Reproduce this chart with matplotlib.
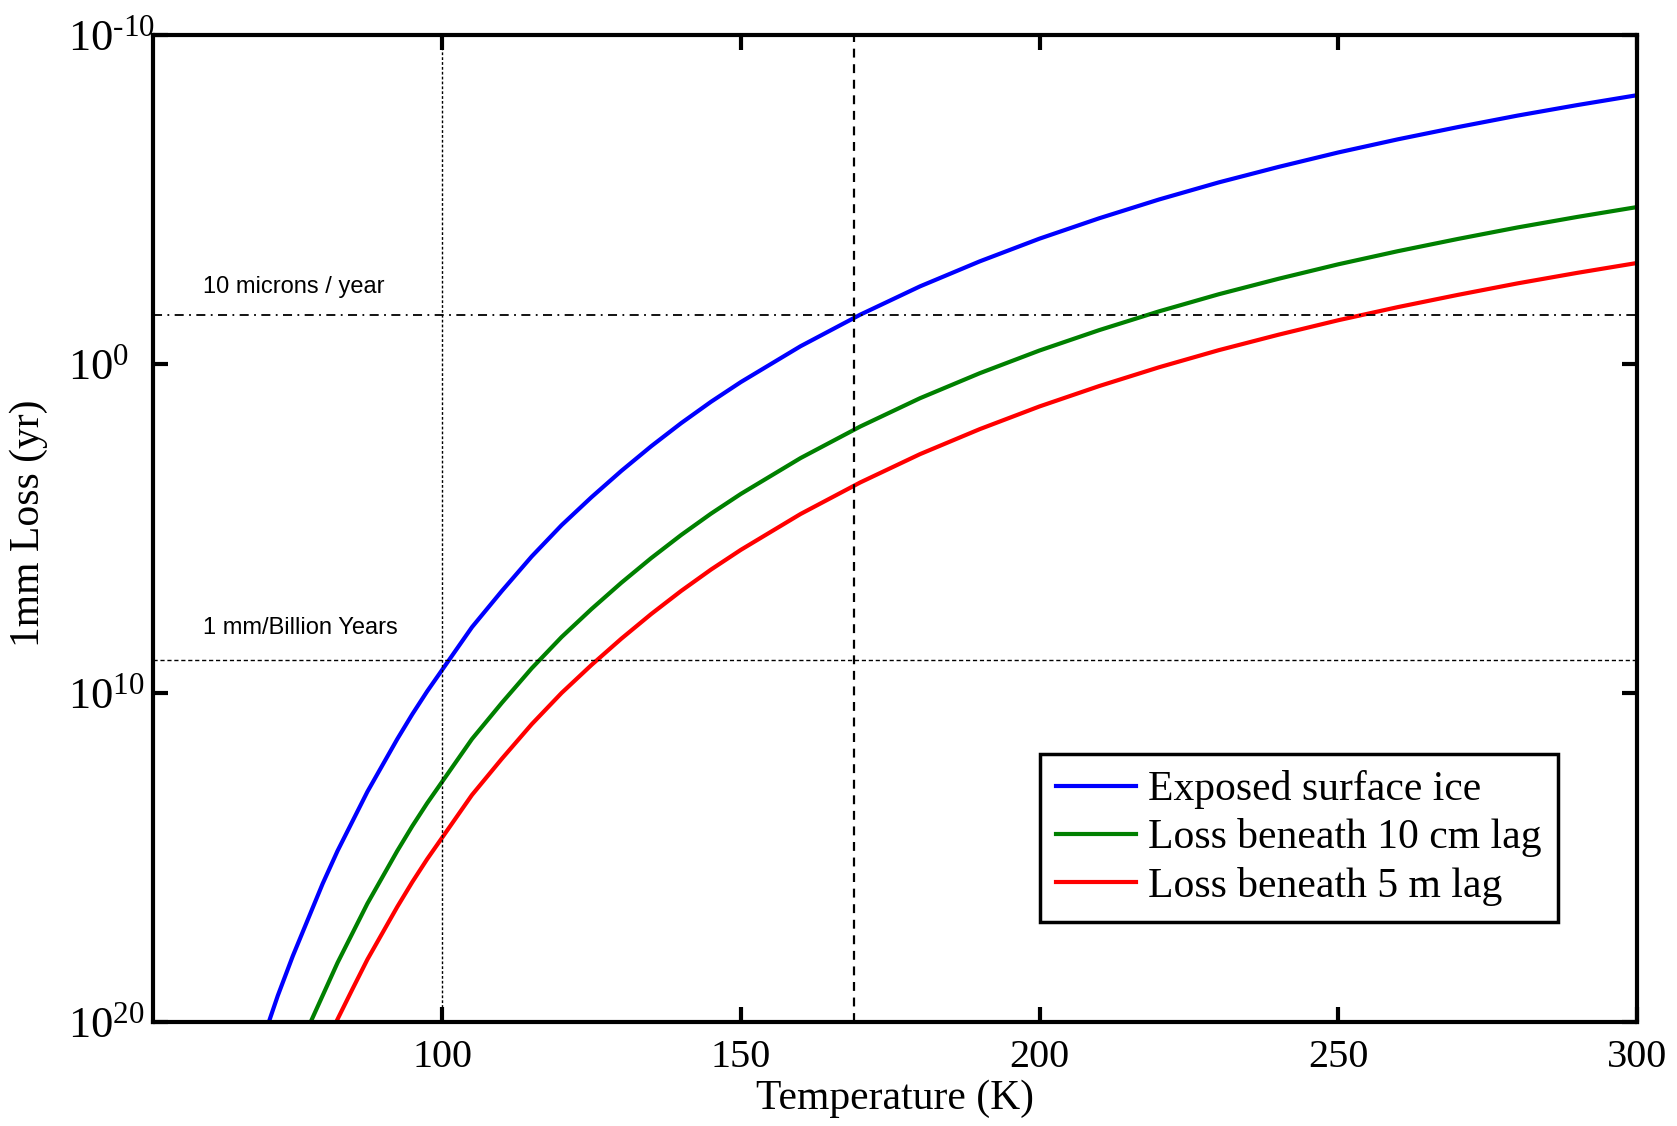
import numpy as np
import matplotlib
matplotlib.use('Agg')
import matplotlib.pyplot as plt

# Temperatura (K) e log10 do tempo para perder 1 mm (anos)
T_exposto = [71, 72.5, 75, 77.5, 80, 82.5, 85, 87.5, 90, 92.5, 95, 97.5, 100, 105, 110, 115, 120, 125, 130,
             135, 140, 145, 150, 160, 170, 180, 190, 200, 210, 220, 230, 240, 250, 260, 270, 280, 290, 300]
log_exposto = [20.0, 19.2, 18.0, 16.9, 15.8, 14.8, 13.9, 13.0, 12.2, 11.4, 10.65, 9.95, 9.3, 8.0, 6.9, 5.85, 4.9, 4.05, 3.25,
               2.5, 1.8, 1.15, 0.55, -0.54, -1.5, -2.36, -3.12, -3.81, -4.43, -5.0, -5.52, -5.99, -6.43, -6.83, -7.2, -7.55, -7.87, -8.17]

T_10cm = [78, 80, 82.5, 85, 87.5, 90, 92.5, 95, 97.5, 100, 105, 110, 115, 120, 125, 130, 135, 140, 145,
          150, 160, 170, 180, 190, 200, 210, 220, 230, 240, 250, 260, 270, 280, 290, 300]
log_10cm = [20.0, 19.2, 18.2, 17.3, 16.4, 15.6, 14.8, 14.05, 13.35, 12.7, 11.4, 10.3, 9.25, 8.3, 7.45, 6.65, 5.9, 5.2, 4.55,
            3.95, 2.86, 1.9, 1.04, 0.28, -0.41, -1.03, -1.6, -2.12, -2.59, -3.03, -3.43, -3.8, -4.15, -4.47, -4.77]

T_5m = [82, 85, 87.5, 90, 92.5, 95, 97.5, 100, 105, 110, 115, 120, 125, 130, 135, 140, 145,
        150, 160, 170, 180, 190, 200, 210, 220, 230, 240, 250, 260, 270, 280, 290, 300]
log_5m = [20.1, 19.0, 18.1, 17.3, 16.5, 15.75, 15.05, 14.4, 13.1, 12.0, 10.95, 10.0, 9.15, 8.35, 7.6, 6.9, 6.25,
          5.65, 4.56, 3.6, 2.74, 1.98, 1.29, 0.67, 0.1, -0.42, -0.89, -1.33, -1.73, -2.1, -2.45, -2.77, -3.07]

rotulos = ['Exposed surface ice', 'Loss beneath 10 cm lag', 'Loss beneath 5 m lag']
cores = ['#0000ff', '#008000', '#ff0000']

# linhas de referencia
y_10microns = 10 ** -1.5
y_bilhao = 1e9
T_ref1 = 100
T_ref2 = 169

xticks = [100, 150, 200, 250, 300]
yticks = [1e-10, 1e0, 1e10, 1e20]
ytick_labels = [r'$10^{\text{-}10}$', r'$10^{0}$', r'$10^{10}$', r'$10^{20}$']

plt.rcParams['font.family'] = 'Liberation Serif'
plt.rcParams['mathtext.fontset'] = 'custom'
plt.rcParams['mathtext.rm'] = 'Liberation Serif'
plt.rcParams['mathtext.it'] = 'Liberation Serif:italic'

fig = plt.figure(figsize=(16.77, 11.26), dpi=100)
ax = fig.add_axes([0.0912, 0.0924, 0.8849, 0.8765])

for T, logt, cor, rot in zip([T_exposto, T_10cm, T_5m], [log_exposto, log_10cm, log_5m], cores, rotulos):
    ax.plot(T, 10 ** np.array(logt), color=cor, linewidth=3, label=rot, solid_joinstyle='round')

# linhas tracejadas
ax.axvline(T_ref1, color='k', linewidth=1.0, linestyle=(0, (2, 1.5)))
ax.axvline(T_ref2, color='k', linewidth=1.6, linestyle=(0, (4, 3)))
ax.axhline(y_bilhao, color='k', linewidth=1.0, linestyle=(0, (3, 2)))
ax.axhline(y_10microns, color='k', linewidth=1.3, linestyle=(0, (5, 3, 1, 3)))

ax.text(60, 10 ** -2.35, '10 microns / year', family='Liberation Sans', fontsize=17, va='center', ha='left')
ax.text(60, 10 ** 8.02, '1 mm/Billion Years', family='Liberation Sans', fontsize=17, va='center', ha='left')

ax.set_yscale('log')
ax.set_xlim(51.6, 300)
ax.set_ylim(1e20, 1e-10)
ax.set_xticks(xticks)
ax.set_xticklabels([str(t) for t in xticks])
ax.set_yticks(yticks)
ax.set_yticklabels(ytick_labels)
ax.yaxis.set_minor_locator(matplotlib.ticker.NullLocator())

ax.tick_params(axis='both', which='major', direction='in', length=11, width=3, top=True, right=True)
ax.tick_params(axis='x', pad=12, labelsize=29)
ax.tick_params(axis='y', pad=61, labelsize=32)
for lab in ax.get_yticklabels():
    lab.set_horizontalalignment('left')

for sp in ax.spines.values():
    sp.set_linewidth(3)

ax.set_xlabel('Temperature (K)', fontsize=30)
ax.set_ylabel('1mm Loss (yr)', fontsize=30)
ax.xaxis.set_label_coords(0.5, -0.058)
ax.yaxis.set_label_coords(-0.071, 0.505)

leg = ax.legend(loc='lower right', bbox_to_anchor=(0.947, 0.101), borderaxespad=0,
                fontsize=30, handlelength=1.9, handletextpad=0.3, labelspacing=0.22,
                borderpad=0.4, fancybox=False, framealpha=1)
leg.get_frame().set_edgecolor('k')
leg.get_frame().set_linewidth(2.5)
for linha in leg.get_lines():
    linha.set_linewidth(3)

fig.savefig('out.png', dpi=100)
